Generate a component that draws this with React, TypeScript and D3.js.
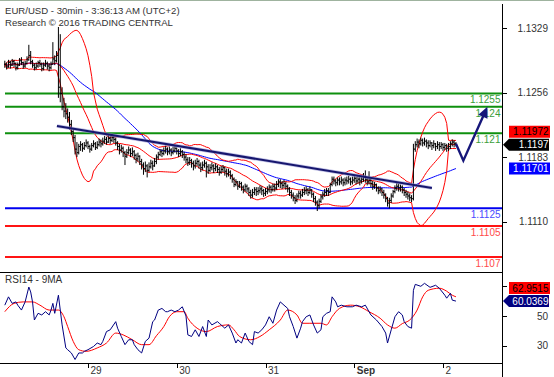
import React from 'react';
import * as d3 from 'd3';

// ---------- data (prices in pips above 1.1000) ----------
const FIRST_BAR = 3; // bar index of first bar; Aug 29 00:00 = bar 48 (30-min bars)
const closePips = [
  288,285,290,287,291,289,284,287,292,290,286,289,293,298,291,287,284,286,290,288,283,287,289,286,284,288,294,292,298,
  262,255,240,235,232,228,220,212,205,192,188,195,
  197,193,196,199,195,192,196,198,194,197,200,198,201,203,200,204,202,205,203,199,
  195,191,193,188,184,188,191,187,189,185,181,184,
  178,174,170,173,168,172,176,173,178,183,
  186,189,187,190,192,189,191,188,190,193,190,187,189,186,183,180,
  177,179,176,173,176,178,174,171,174,176,172,168,171,173,170,172,169,166,169,171,167,164,166,162,
  158,152,155,150,153,149,146,150,147,143,140,
  143,146,144,145,147,145,142,144,146,149,146,150,148,152,155,153,151,153,150,147,143,140,137,134,139,142,140,
  143,145,146,143,146,141,136,132,128,133,138,141,143,145,143,
  152,158,156,154,157,155,157,154,157,156,158,155,157,159,156,158,156,158,160,158,155,
  157,153,150,152,148,145,147,143,140,136,131,134,
  139,144,148,150,148,149,146,143,141,139,137,136,
  192,197,200,198,202,199,201,199,196,199,196,198,195,197,195,197,194,196,193,195,198,200,198,197.2,
];
const highPips = [
  292,290,293,292,294,293,290,290,295,296,291,292,297,310,303,293,289,290,292,293,290,290,293,291,289,291,313,298,303,
  342,322,262,250,244,238,234,225,216,208,200,198,
  201,199,200,203,201,197,199,202,200,201,204,203,205,207,206,208,207,209,208,205,
  201,198,197,195,190,192,195,193,194,191,187,188,
  185,181,177,178,175,177,180,179,182,186,
  189,192,192,194,196,194,195,193,195,196,194,192,193,191,189,186,
  183,183,181,179,180,182,180,177,178,180,178,175,175,177,175,176,174,172,173,174,172,170,170,168,
  164,160,158,156,156,155,151,153,152,149,146,
  147,149,149,149,151,150,147,148,150,152,151,153,153,156,158,158,156,157,155,152,149,146,143,140,142,145,145,
  147,149,150,148,150,147,143,139,134,136,141,144,147,148,148,
  154,161,161,158,160,160,161,159,160,161,162,160,161,163,161,162,161,162,165,168,160,
  167,159,156,155,153,150,150,148,146,142,138,137,
  142,146,151,154,153,152,151,148,146,144,142,140,
  198,201,204,203,205,204,205,203,202,202,200,202,199,201,200,200,199,199,198,199,201,203,202,200,
];
const lowPips = [
  284,282,284,283,286,285,281,282,286,287,283,284,288,292,288,284,281,282,284,285,280,281,285,282,280,282,288,287,290,
  250,245,236,228,226,222,214,208,200,186,183,186,
  190,189,191,194,192,188,190,194,191,192,195,194,196,198,197,199,198,200,199,196,
  191,186,188,183,174,182,186,183,184,180,176,178,
  174,169,163,166,160,166,170,168,172,175,
  180,184,183,185,187,185,186,184,186,188,186,183,184,182,179,176,
  173,174,171,168,170,173,170,166,168,171,160,164,166,168,165,167,165,162,164,166,162,160,161,158,
  154,149,150,146,148,145,142,144,143,139,136,
  137,140,139,140,142,140,138,139,141,143,142,144,144,146,149,148,147,148,146,143,139,136,133,130,132,136,136,
  138,140,141,139,141,137,132,128,122,125,131,135,138,139,139,
  142,150,152,150,151,151,152,150,151,152,153,151,152,154,152,153,151,153,155,154,151,
  152,149,146,147,144,141,142,139,136,132,127,125,
  131,137,142,145,144,144,142,139,137,135,133,132,
  134,189,194,193,196,195,196,194,192,194,191,193,190,192,190,192,190,191,189,190,192,195,194,195,
];

const dayTickBars = [48, 96, 144, 192, 240];
const dayLabels = ['29', '30', '31', 'Sep', '2'];
const priceTicks = [1.1329, 1.1256, 1.1183, 1.111];
const priceTickLabels = ['1.1329', '1.1256', '1.1183', '1.1110'];
const rsiTicks = [70, 50, 30];
const rsiTickLabels = ['', '50', '30']; // 70 is hidden behind the value tags

const levelPrices = [1.1255, 1.124, 1.121, 1.1125, 1.1105, 1.107];
const levelLabels = ['1.1255', '1.124', '1.121', '1.1125', '1.1105', '1.107'];
const levelKinds = ['res', 'res', 'res', 'piv', 'sup', 'sup'];

const trendBars = [31.2, 234];
const trendPrices = [1.12182, 1.11481];
const forecastBars = [247, 251, 264];
const forecastPrices = [1.1198, 1.1179, 1.124];

const rsiPts: [number, number][] = [
  [3,57.3],[5,62.9],[7,58.5],[9,59.5],[10,57.3],[12,54],[14,59.5],[16,69.5],[17,66.2],[18,59.5],[19,47.3],[21,51.8],[23,50.7],[25,52.9],[27,50.7],[28,54],[29,58.5],[30,51.8],[32,64],[34,44],[36,28.5],[37,27.3],[39,25.1],[41,20.7],[43,25.1],[45,25.1],[46,26.2],[48,27.3],[51,29.5],[53,31.8],[55,30.7],[56,32.9],[58,39.5],[60,40.7],[63,46.2],[64,41.8],[66,36.2],[68,30.7],[70,34],[72,34],[73,30.7],[75,27.3],[77,25.1],[79,32.9],[81,35.1],[83,46.2],[84,47.3],[86,54],[88,55.1],[90,52.9],[91,52.9],[93,54],[95,52.9],[97,54],[99,56.2],[101,50],[102,37.3],[104,36.2],[106,40.7],[108,36.2],[110,42.9],[112,36.2],[113,47.3],[115,44],[118,46.2],[119,45.1],[122,41.8],[124,44],[126,38.5],[128,31.8],[129,34],[131,31.8],[133,38.5],[135,32.9],[137,30.7],[138,39.5],[140,38.5],[142,40.7],[144,44],[146,49.5],[148,45.1],[150,54],[152,59.5],[154,57.3],[156,55.1],[157,49.5],[159,42.9],[161,35.1],[163,41.8],[164,46.2],[166,49.5],[168,50.7],[170,44],[172,38.5],[174,40.7],[175,49.5],[177,51.8],[179,52.9],[180,62.9],[182,59.5],[183,56.2],[185,57.3],[188,56.2],[191,56.2],[193,57.3],[196,56.2],[198,57.3],[200,52.9],[201,50.7],[204,47.3],[207,42.9],[209,38.5],[210,31.8],[212,40.7],[214,49.5],[216,52.9],[218,50.7],[219,46.2],[221,42.9],[223,41.8],[224,67.3],[225,71.3],[228,70],[230,72],[233,69.3],[236,70.7],[238,68.7],[241,64],[242,62],[244,65.3],[245,60.7],[247,60.0369],
];
const rsiMaPts: [number, number][] = [
  [3,52.9],[8,58.5],[13,59.5],[18,59.5],[22,57.3],[27,54],[32,54],[35,49.5],[37,42.9],[40,32.9],[43,27.3],[47,26.2],[53,28.5],[58,31.8],[63,38.5],[67,37.3],[72,34],[77,30.7],[81,30.7],[85,36.7],[89,42.9],[92,49.5],[96,52.9],[100,52.9],[102,48.5],[107,41.8],[112,39.5],[118,42.9],[124,44],[127,40.7],[130,36.2],[136,34],[141,36.2],[146,40.7],[152,47.3],[156,54],[161,50.7],[164,45.1],[168,45.1],[174,45.1],[177,44],[180,49.5],[184,55.1],[190,57.3],[195,56.2],[200,52.9],[206,48.5],[210,44],[214,41.8],[218,44.9],[222,47.3],[226,54],[229,62.9],[232,67.3],[238,68.7],[242,66.7],[245,64],[247,62.9515],
];

const mainTagValues = [1.11972, 1.1197, 1.11701];
const mainTagTexts = ['1.11972', '1.1197', '1.11701'];
const mainTagKinds = ['bb', 'last', 'ma'];
const rsiTagValues = [62.9515, 60.0369];
const rsiTagTexts = ['62.9515', '60.0369'];
const rsiTagKinds = ['bb', 'rsi'];

// ---------- styles ----------
const FONT = "'Liberation Sans', Arial, sans-serif";
const levelStyle: Record<string, { line: string; text: string }> = {
  res: { line: '#0e900e', text: '#3a9e3a' },
  piv: { line: '#0000f0', text: '#4a4aff' },
  sup: { line: '#ff1414', text: '#ff4a4a' },
};
const tagStyle: Record<string, { fill: string; text: string; pointer: boolean }> = {
  bb: { fill: '#ff0000', text: '#000', pointer: false },
  last: { fill: '#000', text: '#fff', pointer: true },
  ma: { fill: '#0000ff', text: '#fff', pointer: false },
  rsi: { fill: '#000080', text: '#fff', pointer: true },
};

const toPrice = (p: number) => 1.1 + p / 10000;

export default function App() {
  const AX = 502.5;
  const x = d3.scaleLinear().domain([48, 240]).range([88, 443]);
  const y = d3.scaleLinear().domain([1.107, 1.1329]).range([257, 28]);
  const yr = d3.scaleLinear().domain([30, 70]).range([345.7, 286.3]);

  const closes = closePips.map(toPrice);
  const bars = closes.map((c, k) => {
    const o = k === 0 ? c : closes[k - 1];
    return {
      i: FIRST_BAR + k,
      o,
      c,
      h: Math.max(toPrice(highPips[k]), o, c),
      l: Math.min(toPrice(lowPips[k]), o, c),
    };
  });
  const barPath = bars
    .map((b) => {
      const xi = x(b.i);
      return `M${xi},${y(b.h)}V${y(b.l)}M${xi - 1.1},${y(b.o)}H${xi}M${xi},${y(b.c)}H${xi + 1.1}`;
    })
    .join('');

  const stats = (n: number) =>
    closes.map((_, k) => {
      const w = closes.slice(Math.max(0, k - n + 1), k + 1);
      const m = d3.mean(w) as number;
      const sd = Math.sqrt(d3.mean(w, (v) => (v - m) ** 2) as number);
      return { i: FIRST_BAR + k, m, u: m + 2 * sd, l: m - 2 * sd };
    });
  const bb = stats(20);
  const ma50 = stats(50);

  const line = d3.line<[number, number]>().x((d) => x(d[0])).y((d) => y(d[1]));
  const rsiLine = d3.line<[number, number]>().x((d) => x(d[0])).y((d) => yr(d[1]));
  const rsiMaLine = d3
    .line<[number, number]>()
    .x((d) => x(d[0]))
    .y((d) => yr(d[1]))
    .curve(d3.curveMonotoneX);

  const bbU = line(bb.map((d) => [d.i, d.u]));
  const bbM = line(bb.map((d) => [d.i, d.m]));
  const bbL = line(bb.map((d) => [d.i, d.l]));
  const maPath = line(ma50.map((d) => [d.i, d.m]));

  const trend = line(trendBars.map((b, k) => [b, trendPrices[k]]));
  const fc = forecastBars.map((b, k) => [x(b), y(forecastPrices[k])]);
  const tip = fc[fc.length - 1];
  const prev = fc[fc.length - 2];
  const dx = tip[0] - prev[0], dy = tip[1] - prev[1];
  const len = Math.hypot(dx, dy);
  const ux = dx / len, uy = dy / len;
  const hl = 11, hw = 5;
  const bx = tip[0] - ux * hl, by = tip[1] - uy * hl;
  const head = `M${tip[0]},${tip[1]}L${bx + uy * hw},${by - ux * hw}L${bx - uy * hw},${by + ux * hw}Z`;
  const fcPath = `M${fc[0][0]},${fc[0][1]}` + fc.slice(1, -1).map((p) => `L${p[0]},${p[1]}`).join('') + `L${tip[0] - ux * 6},${tip[1] - uy * 6}`;

  const placeTags = (vals: number[], kinds: string[], scale: (v: number) => number) => {
    const anchorIdx = kinds.findIndex((k) => tagStyle[k].pointer);
    const ay = scale(vals[anchorIdx]);
    return vals.map((v, k) => {
      let cy = scale(v);
      if (k !== anchorIdx && Math.abs(cy - ay) < 13) cy = cy <= ay ? ay - 13 : ay + 13;
      return cy;
    });
  };
  const mainTagY = placeTags(mainTagValues, mainTagKinds, y);
  const rsiTagY = placeTags(rsiTagValues, rsiTagKinds, yr);

  const renderTag = (cy: number, text: string, kind: string, key: string) => {
    const st = tagStyle[kind];
    const left = 509, right = 550, h = 12;
    const d = st.pointer
      ? `M${AX + 0.5},${cy}L${left},${cy - h / 2}H${right - 1}V${cy + h / 2}H${left}Z`
      : `M${left},${cy - h / 2}H${right}V${cy + h / 2}H${left}Z`;
    return (
      <g key={key}>
        <path d={d} fill={st.fill} />
        <text x={right - 1.5} y={cy + 3.6} textAnchor="end" fill={st.text} fontSize={10} fontFamily={FONT}>
          {text}
        </text>
      </g>
    );
  };

  return (
    <svg width={554} height={377} style={{ position: 'absolute', left: 0, top: 0, background: '#fff' }}>
      <defs>
        <clipPath id="mainClip">
          <rect x={4} y={27} width={AX - 4} height={245} />
        </clipPath>
        <clipPath id="rsiClip">
          <rect x={4} y={273} width={AX - 4} height={90} />
        </clipPath>
      </defs>
      <rect x={0} y={0} width={554} height={377} fill="#fff" />
      <line x1={0} x2={554} y1={0.5} y2={0.5} stroke="#9fb39f" />

      {/* title */}
      <text x={5} y={14.3} fontSize={9.6} fontFamily={FONT} fill="#333">
        EUR/USD - 30min - 3:36:13 AM (UTC+2)
      </text>
      <text x={5} y={26} fontSize={9.6} fontFamily={FONT} fill="#333">
        Research © 2016 TRADING CENTRAL
      </text>

      {/* levels */}
      {levelPrices.map((p, k) => (
        <g key={'lv' + k}>
          <line x1={5} x2={AX} y1={y(p)} y2={y(p)} stroke={levelStyle[levelKinds[k]].line} strokeWidth={2} />
          <text x={500.5} y={y(p) + 10} textAnchor="end" fontSize={10} fontFamily={FONT} fill={levelStyle[levelKinds[k]].text}>
            {levelLabels[k]}
          </text>
        </g>
      ))}

      <g clipPath="url(#mainClip)">
        <path d={maPath || ''} fill="none" stroke="#0000ff" strokeWidth={1} />
        <path d={bbU || ''} fill="none" stroke="#ff0000" strokeWidth={1} />
        <path d={bbM || ''} fill="none" stroke="#ff0000" strokeWidth={1} />
        <path d={bbL || ''} fill="none" stroke="#ff0000" strokeWidth={1} />
        <path d={barPath} fill="none" stroke="#000" strokeWidth={1} />
        <path d={trend || ''} fill="none" stroke="#9a9ad6" strokeWidth={3.6} strokeOpacity={0.6} />
        <path d={trend || ''} fill="none" stroke="#16166e" strokeWidth={2} />
      </g>

      {/* forecast arrow */}
      <path d={fcPath} fill="none" stroke="#16167a" strokeWidth={2.4} strokeLinejoin="miter" />
      <path d={head} fill="#16167a" />

      {/* RSI panel */}
      <text x={5} y={282.7} fontSize={10} fontFamily={FONT} fill="#333">
        RSI14 - 9MA
      </text>
      <g clipPath="url(#rsiClip)">
        <path d={rsiMaLine(rsiMaPts) || ''} fill="none" stroke="#ff0000" strokeWidth={1} />
        <path d={rsiLine(rsiPts) || ''} fill="none" stroke="#000080" strokeWidth={1} />
      </g>

      {/* frame */}
      <line x1={AX} x2={AX} y1={4} y2={377} stroke="#000" />
      <line x1={0} x2={AX} y1={272.5} y2={272.5} stroke="#000" />
      <line x1={0} x2={AX} y1={363.5} y2={363.5} stroke="#000" />

      {/* price axis */}
      {priceTicks.map((p, k) => (
        <g key={'pt' + k}>
          <line x1={AX} x2={507} y1={Math.round(y(p)) + 0.5} y2={Math.round(y(p)) + 0.5} stroke="#000" />
          <text x={548} y={y(p) + 3.6} textAnchor="end" fontSize={10} fontFamily={FONT} fill="#333">
            {priceTickLabels[k]}
          </text>
        </g>
      ))}
      {rsiTicks.map((v, k) => (
        <g key={'rt' + k}>
          <line x1={AX} x2={507} y1={Math.round(yr(v)) + 0.5} y2={Math.round(yr(v)) + 0.5} stroke="#000" />
          {rsiTickLabels[k] && (
            <text x={548} y={yr(v) + 3.6} textAnchor="end" fontSize={10} fontFamily={FONT} fill="#333">
              {rsiTickLabels[k]}
            </text>
          )}
        </g>
      ))}

      {/* time axis */}
      {dayTickBars.map((b, k) => (
        <g key={'dt' + k}>
          <line x1={Math.round(x(b)) + 0.5} x2={Math.round(x(b)) + 0.5} y1={364} y2={368} stroke="#000" />
          <text
            x={x(b) + 2.5}
            y={373.5}
            fontSize={10}
            fontFamily={FONT}
            fontWeight={dayLabels[k] === 'Sep' ? 'bold' : 'normal'}
            fill="#333"
          >
            {dayLabels[k]}
          </text>
        </g>
      ))}

      {/* value tags */}
      {mainTagValues.map((v, k) => renderTag(mainTagY[k], mainTagTexts[k], mainTagKinds[k], 'mt' + k))}
      {rsiTagValues.map((v, k) => renderTag(rsiTagY[k], rsiTagTexts[k], rsiTagKinds[k], 'rt' + k))}
    </svg>
  );
}
